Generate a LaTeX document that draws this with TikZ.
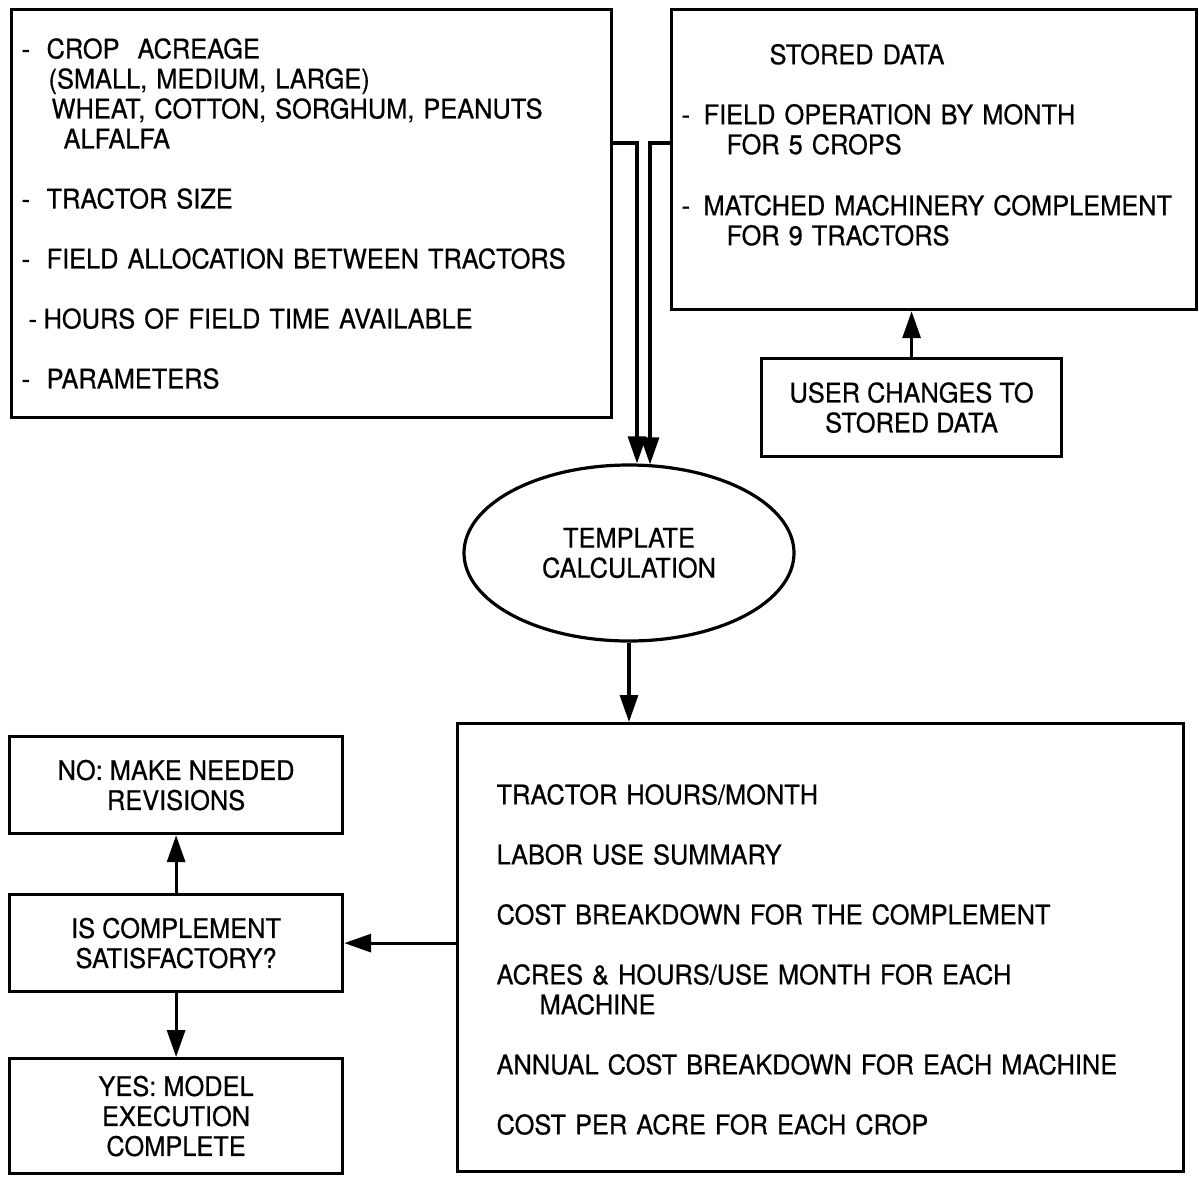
\documentclass[tikz,border=0pt]{standalone}
\usepackage{fontspec}
\setmainfont[FakeStretch=0.94, FakeBold=0.6]{TeX Gyre Heros}
\usetikzlibrary{shapes, arrows.meta, calc, positioning}

\begin{document}
\begin{tikzpicture}[x=1pt, y=-1pt, line width=3.2pt, font=\fontsize{27}{30}\selectfont]
        \useasboundingbox (0,0) rectangle (1199,1184);

        \tikzstyle{b} = [draw, rectangle, inner sep=0pt, align=center];
        \tikzstyle{l} = [b, align=left, inner xsep=10pt];
        \tikzstyle{a} = [-{Triangle[length=27pt, width=18pt]}];

        % input data
        \node [l, text width=580pt, minimum width=600pt, minimum height=408pt, anchor=north west] (inputs) at (10, 8) {%
            \makebox[25pt][l]{-}CROP\ \ ACREAGE\\
            \hspace*{27pt}(SMALL, MEDIUM, LARGE)\\
            \hspace*{30pt}WHEAT, COTTON, SORGHUM, PEANUTS\\
            \hspace*{42pt}ALFALFA\\[30pt]
            \makebox[25pt][l]{-}TRACTOR SIZE\\[30pt]
            \makebox[25pt][l]{-}FIELD ALLOCATION BETWEEN TRACTORS\\[30pt]
            \hspace*{7pt}\makebox[15pt][l]{-}HOURS OF FIELD TIME AVAILABLE\\[30pt]
            \makebox[25pt][l]{-}PARAMETERS};

        \node [l, text width=505pt, minimum width=525pt, minimum height=300pt, anchor=north west] (stored) at (670, 8) {%
            \hspace*{88pt}STORED DATA\\[30pt]
            \makebox[22pt][l]{-}FIELD OPERATION BY MONTH\\
            \hspace*{45pt}FOR 5 CROPS\\[31pt]
            \makebox[22pt][l]{-}MATCHED MACHINERY COMPLEMENT\\
            \hspace*{45pt}FOR 9 TRACTORS\\
            \mbox{}};

        \node [b, minimum width=300pt, minimum height=98pt, anchor=north west] (user) at (760, 357) {USER CHANGES TO\\STORED DATA};

        \node [draw, ellipse, minimum width=330pt, minimum height=176pt, inner sep=0pt, align=center] (calc) at (629, 553) {TEMPLATE\\CALCULATION};

        % results
        \node [l, inner xsep=39pt, text width=648pt, minimum width=726pt, minimum height=448pt, anchor=north west] (outputs) at (456, 722) {%
            \mbox{}\\[14pt]
            TRACTOR HOURS/MONTH\\[30pt]
            LABOR USE SUMMARY\\[30pt]
            COST BREAKDOWN FOR THE COMPLEMENT\\[30pt]
            ACRES \& HOURS/USE MONTH FOR EACH\\
            \hspace*{43pt}MACHINE\\[30pt]
            ANNUAL COST BREAKDOWN FOR EACH MACHINE\\[30pt]
            COST PER ACRE FOR EACH CROP};

        \node [b, minimum width=333pt, minimum height=97pt, anchor=north west] (no) at (8, 735) {NO: MAKE NEEDED\\REVISIONS};
        \node [b, minimum width=333pt, minimum height=97pt, anchor=north west] (decide) at (8, 893) {IS COMPLEMENT\\SATISFACTORY?};
        \node [b, minimum width=333pt, minimum height=115pt, anchor=north west] (yes) at (8, 1057) {YES: MODEL\\EXECUTION\\COMPLETE};

        \draw [a] ($(inputs.north east) + (0, 135)$) -| ($(calc.north) + (8, 0)$);
        \draw [a] ($(stored.north west) + (0, 135)$) -| ($(calc.north) + (21, 1)$);
        \draw [a] (user.north) -- (stored.south -| user.north);
        \draw [a] (calc.south) -- (calc.south |- outputs.north);
        \draw [a] (outputs.west |- decide.east) -- (decide.east);
        \draw [a] (decide.north) -- (no.south);
        \draw [a] (decide.south) -- (yes.north);
    \end{tikzpicture}
\end{document}
